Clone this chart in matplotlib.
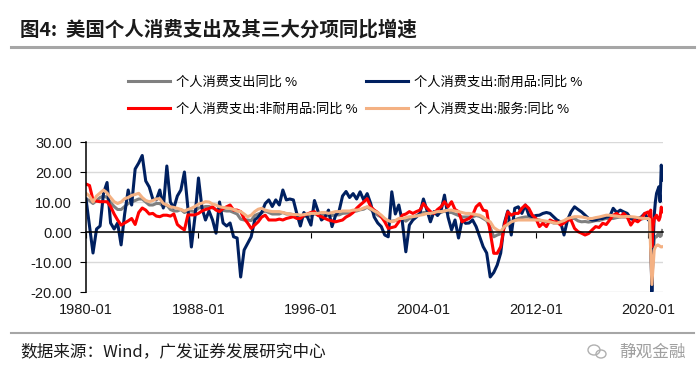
import numpy as np
import pandas as pd
import matplotlib
matplotlib.use("Agg")
import matplotlib.pyplot as plt
from matplotlib.lines import Line2D
from matplotlib.patches import Ellipse

# 日期：1980-2019按季度取值，2020-01之后按月取值
dates = pd.date_range("1980-01-01", "2019-10-01", freq="QS").append(
    pd.date_range("2020-01-01", "2021-01-01", freq="MS"))

# 个人消费支出同比 %
pce_total = [
    11, 10.5, 9.5, 10.5,  11.5, 12, 11.5, 9.8,  8.5, 7.5, 7.5, 8.5,  9.5, 10, 10.5, 11,
    11, 10, 9, 9,  9.5, 9.5, 8.5, 9,  7.5, 7, 7, 7.5,  6.5, 7, 7, 6.8,
    8, 8.2, 8.5, 8.5,  8, 7.5, 7.5, 7.2,  7, 7, 6.5, 6,  4.3, 4, 4, 3.8,
    5.5, 6, 6.5, 7,  6.5, 6, 6, 6,  6.5, 6, 6, 5.8,  5.2, 5, 5.2, 5.2,
    5.5, 6, 5.8, 5.6,  5.7, 5.4, 5.5, 5.7,  5.7, 6.2, 6.3, 6.3,  6.8, 7, 7.4, 7.6,
    8.3, 7.5, 6.5, 5.6,  5, 4.2, 3.5, 3.6,  3.8, 4, 4.5, 3.6,  4.5, 4.8, 5.5, 6,
    6.5, 6.5, 5.8, 6.3,  6.3, 6.5, 7, 6.5,  6.5, 6, 5.5, 5,  5, 5, 5, 5.5,
    5.2, 4.5, 3.8, 1.5,  -1.6, -1, -0.6, 1.5,  3.3, 3.4, 4, 4.5,  4.8, 5, 5, 4.5,
    4.3, 4, 3.5, 3.5,  3.5, 3, 3, 3.2,  3, 3.9, 4.5, 4.5,  3.7, 3.4, 3.5, 3.3,
    3.5, 3.8, 3.8, 4.2,  4.5, 4.5, 4.5, 4.8,  5, 5, 5, 4.5,  4, 4.4, 4.3, 4.6,
    4.5, 4.4, -3.5, -17.5, -8.5, -2.5, -1.5, -1.6, -0.8, -0.6, -1.5, -1.2, 0.5,
]

# 个人消费支出:耐用品:同比 %
pce_durable = [
    11, 2, -7, 1,  2, 13, 16.5, 3,  1, 3, -4.3, 6,  14, 9, 21, 23,
    25.5, 17, 15, 11,  10.7, 14, 8, 22,  10, 8, 12, 14,  20, 8, -5, 5,
    18, 8, 4, 7,  4, -0.4, 10, 3,  2, 3, -1.6, -2,  -15, -6, -3.8, -1.6,
    4, 5, 6.5, 9.5,  10.7, 8.5, 10.7, 9,  14, 10.7, 11, 10.7,  6, 2, 6.5, 5,
    2.3, 10.5, 7, 4,  5, 7.3, 1.8, 5.5,  7, 12, 13.5, 11.5,  12.8, 11, 13.4, 10.7,
    12.8, 9.5, 5, 3,  1.8, -1, -1.6, 13.4,  6, 9, 3.5, -6.6,  2.3, 4, 5, 6.2,
    11, 7.3, 3.4, 6.8,  5.5, 7, 12.3, 5,  0.7, 4, -2, 4,  2.9, 3, 4, 1.8,
    -1.6, -4.9, -7, -15,  -13.5, -11, -7, 2.9,  7, -1, 7.9, 8.4,  6.2, 9, 5.6, 5.1,
    5.5, 5.6, 6.2, 6.5,  6.2, 5.1, 4, 3.4,  -1, 4, 6.7, 8.4,  7.5, 6.7, 5.6, 4.5,
    4, 4, 4.5, 4.5,  5, 5.1, 7.9, 6.5,  7.3, 6.7, 6.2, 4.5,  4, 4.5, 5, 6.2,
    4, 4.5, -2.2, -19.9, -5, 5.6, 10.1, 12.9, 14, 15.1, 10.1, 22.3, 17.3,
]

# 个人消费支出:非耐用品:同比 %
pce_nondurable = [
    16, 15.5, 10.7, 10.3,  10.1, 10.1, 10.1, 8.5,  6, 4, 2.3, 3,  3.7, 4.5, 2.5, 6.5,
    8, 7.3, 6, 6.2,  5.3, 5.1, 5.6, 5.6,  5.3, 6, 2.5, 1.5,  0.7, 5.7, 5.7, 5.7,
    6.2, 7, 7.5, 7.8,  8.4, 7.3, 6.8, 7.8,  8.4, 9, 7.3, 7.3,  6.8, 4.5, 3, 1.2,
    2.3, 3.4, 5, 5.6,  4, 4, 4, 4.3,  4, 4.5, 4.8, 5.1,  4.5, 4.5, 5.6, 6,
    6.5, 6.8, 5.5, 5.1,  4.5, 4, 3.7, 3.4,  3.7, 4, 5, 5.6,  6.5, 7.9, 9, 10,
    11.1, 8.4, 7.3, 6.5,  5.1, 3.4, 1.2, 1.5,  1.8, 3.4, 5.6, 6,  6.8, 6.2, 6.8, 7.3,
    9.5, 8, 6.8, 6.2,  7.5, 8.4, 10.1, 8.4,  10.1, 7.5, 6.8, 3.4,  4, 4.5, 5.6, 8.4,
    9.5, 7.3, 7, 0,  -7.1, -7.1, -4.9, 2,  6.7, 5.6, 6.2, 6.2,  7.9, 9, 7.9, 5.6,
    4.5, 1.8, 2.9, 1.8,  4, 3.4, 3.4, 2.3,  3, 4, 4, 1.2,  0.1, -0.4, -1, -0.5,
    0.7, 1.8, 1.5, 2.9,  2.5, 4, 5.6, 6.2,  5.1, 6.2, 5, 2.3,  4, 3.4, 4.5, 6.2,
    6.7, 5, 7.3, -4.9, 1.8, 4.5, 5, 5.6, 4.5, 3.9, 5, 8.3, 6.7,
]

# 个人消费支出:服务:同比 %
pce_services = [
    12.9, 12, 10, 12,  13, 14, 13, 11.5,  10.1, 9.5, 10, 11.1,  11.5, 12.2, 12.5, 12.9,
    11.5, 10.5, 10.1, 10.5,  11, 11.1, 9.5, 9,  8.4, 8.2, 7.9, 7.5,  7, 7.5, 7.9, 8.5,
    9.3, 9.6, 10.1, 10,  9.3, 9, 8.4, 8.2,  8, 7.9, 7.5, 7,  6.8, 6, 5.1, 5.6,
    6.8, 7.6, 7.9, 7.3,  7, 6.8, 6.8, 6.8,  6.5, 6.2, 6, 5.8,  5.8, 5.6, 5.8, 6,
    6.2, 6.2, 6.2, 6.5,  6.5, 6.2, 6.5, 6.8,  6.8, 7, 7, 7,  7.3, 7.3, 7.5, 8,
    8.4, 7.8, 7, 6.5,  5.6, 4.5, 3.8, 3.4,  3.8, 4.5, 4.5, 4.8,  5.1, 5.1, 5.3, 5.6,
    5.8, 6.2, 6.2, 6.5,  6.8, 6.8, 7, 7.3,  7.3, 7, 6.8, 6.5,  6.2, 6.2, 6, 5.8,
    5.6, 5, 4, 3.4,  1.5, 0.7, 0.1, 1.8,  2.5, 3.4, 3.8, 4,  4, 4, 4, 4,
    4, 4, 3.8, 3.6,  3.4, 3.1, 2.9, 3.4,  3.8, 4.5, 4.8, 5.1,  5.1, 5, 4.8, 4.5,
    4.5, 4.8, 5, 5.3,  5.6, 5.6, 5.4, 5.3,  5.1, 5.1, 5.2, 5.1,  5, 4.8, 4.6, 4.5,
    4.5, 4.2, -6.8, -17.5, -12, -6, -5, -4.5, -4.3, -4.5, -4.8, -5, -4.9,
]

series_labels = ["个人消费支出同比 %", "个人消费支出:耐用品:同比 %",
                 "个人消费支出:非耐用品:同比 %", "个人消费支出:服务:同比 %"]
series_colors = ["#808080", "#002060", "#FF0000", "#F4B183"]

x_tick_years = [1980, 1988, 1996, 2004, 2012, 2020]
y_ticks = [-20, -10, 0, 10, 20, 30]

CJK = ["Noto Sans CJK SC", "DejaVu Sans"]


def draw_chart():
    fig = plt.figure(figsize=(7.0, 3.79), dpi=100)
    ax = fig.add_axes([86 / 700, 87 / 379, 577 / 700, 150 / 379])

    all_series = [pce_total, pce_durable, pce_nondurable, pce_services]
    lines = []
    for values, label, color in zip(all_series, series_labels, series_colors):
        line, = ax.plot(dates, values, color=color, lw=2.2, label=label)
        lines.append(line)

    ax.set_xlim(pd.Timestamp("1980-01-01"), pd.Timestamp("2021-01-15"))
    ax.set_ylim(-20, 30)

    # 坐标轴样式
    ax.spines["top"].set_visible(False)
    ax.spines["right"].set_visible(False)
    ax.spines["bottom"].set_position(("data", 0))
    ax.spines["bottom"].set_linewidth(1.1)
    ax.spines["left"].set_linewidth(1.1)
    ax.yaxis.grid(True, color="#D9D9D9", lw=1.0)
    ax.set_axisbelow(True)

    ax.set_yticks(y_ticks)
    ax.set_yticklabels([f"{v:.2f}" for v in y_ticks], fontfamily="Liberation Sans",
                       fontsize=10.5, color="#1a1a1a")
    ax.tick_params(axis="y", direction="out", length=4, pad=6)

    tick_dates = [pd.Timestamp(f"{y}-01-01") for y in x_tick_years]
    ax.set_xticks(tick_dates)
    ax.tick_params(axis="x", direction="out", length=4, labelbottom=False)
    for d, y in zip(tick_dates, x_tick_years):
        ax.text(d, -0.12, f"{y}-01", transform=ax.get_xaxis_transform(), ha="center",
                va="center", fontsize=10.5, fontfamily="Liberation Sans", color="#1a1a1a")

    # 图例：两行两列
    order = [0, 2, 1, 3]
    fig.legend([lines[i] for i in order], [series_labels[i] for i in order],
               loc="upper left", bbox_to_anchor=(128 / 700, 1 - 76 / 379), ncol=2,
               frameon=False, borderpad=0, borderaxespad=0, handlelength=3.2,
               handletextpad=0.45, columnspacing=0.6, labelspacing=1.05,
               prop={"family": CJK, "size": 9.5})

    # 标题、分隔线、来源
    fig.text(20 / 700, 1 - 30 / 379, "图4:  美国个人消费支出及其三大分项同比增速",
             fontsize=14, fontweight="bold", family=CJK, va="center", color="#1a1a1a")
    fig.add_artist(Line2D([11 / 700, 694 / 700], [1 - 47 / 379] * 2,
                          color="#A6A6A6", lw=2.2))
    fig.add_artist(Line2D([11 / 700, 694 / 700], [1 - 333 / 379] * 2,
                          color="#A6A6A6", lw=1.5))
    fig.text(20 / 700, 1 - 352 / 379, "数据来源：Wind，广发证券发展研究中心",
             fontsize=12, family=CJK, va="center", color="#1a1a1a")

    # 右下角水印（带简化的微信图标）
    fig.text(686 / 700, 1 - 352 / 379, "静观金融", fontsize=12, family=CJK,
             va="center", ha="right", color="#A0A0A0")
    for cx, cy, w, h in [(594, 350, 12, 10), (601, 354, 10, 8)]:
        fig.add_artist(Ellipse((cx / 700, 1 - cy / 379), w / 700, h / 379,
                               transform=fig.transFigure, fill=False,
                               edgecolor="#B0B0B0", lw=1.0))

    fig.savefig("out.png", dpi=100)


if __name__ == "__main__":
    draw_chart()
